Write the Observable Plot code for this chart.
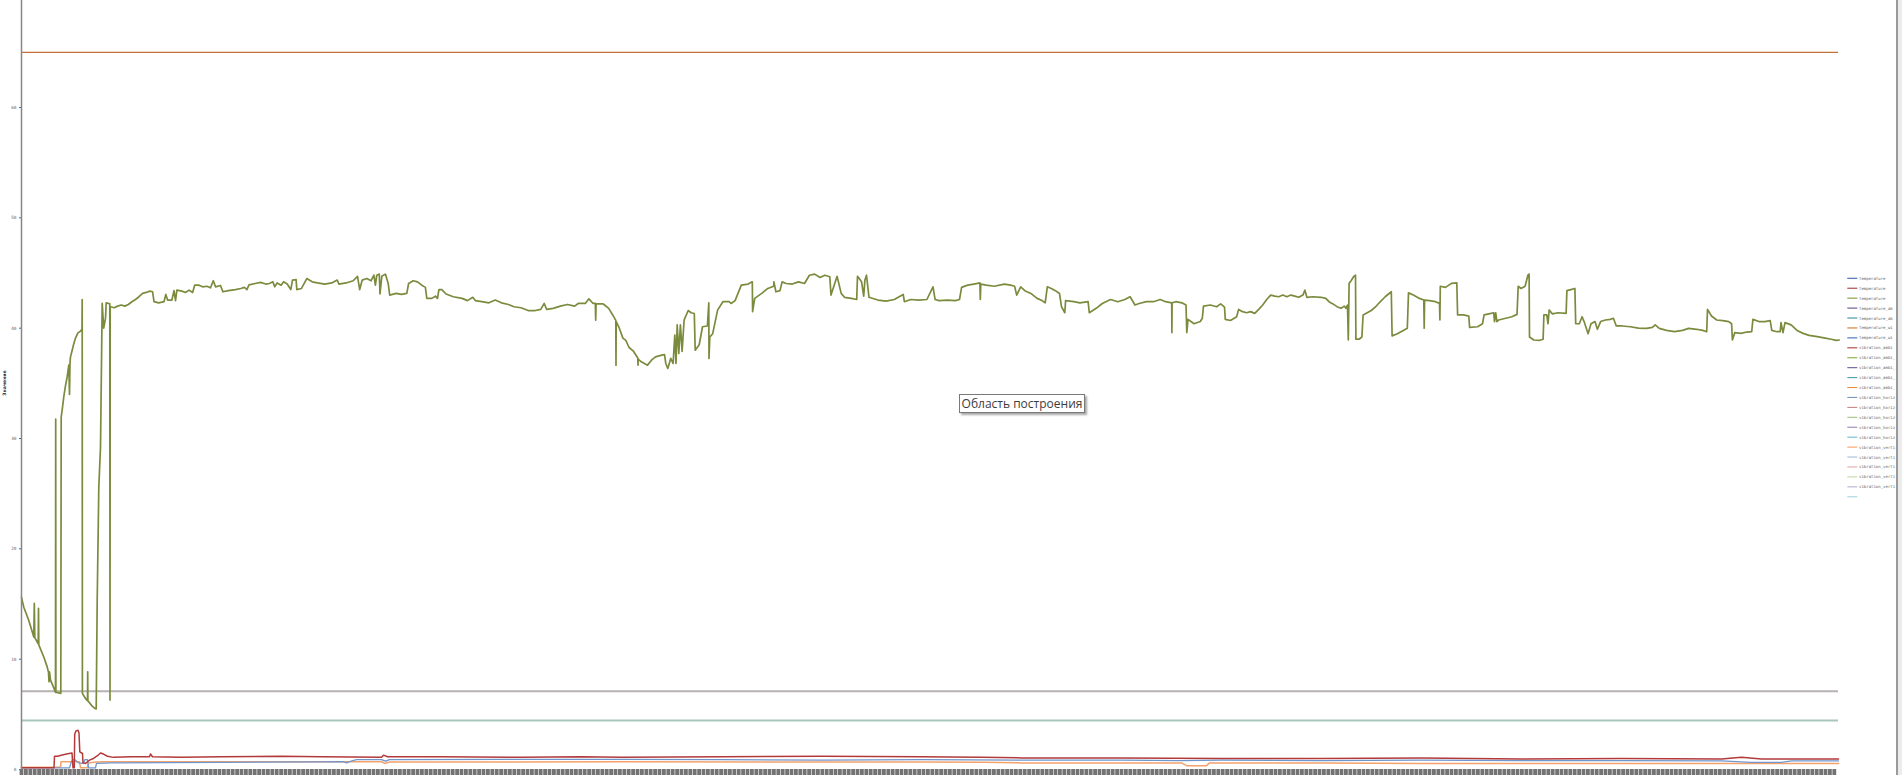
<!DOCTYPE html>
<html><head><meta charset="utf-8">
<script src="https://cdn.jsdelivr.net/npm/d3@7"></script>
<script src="https://cdn.jsdelivr.net/npm/@observablehq/plot@0.6"></script>
<style>
html,body{margin:0;padding:0;background:#fff;}
#wrap{position:relative;width:1902px;height:775px;overflow:hidden;background:#fff;}
#wrap svg{position:absolute;left:0;top:0;}
#tip{position:absolute;left:959px;top:394px;width:124px;height:17px;border:1px solid #7a7a7a;background:#fff;box-shadow:2px 2px 2px rgba(0,0,0,0.35);font:12px "Open Sans",sans-serif;color:#3c3c3c;line-height:17px;text-align:center;white-space:nowrap;}
#edge{position:absolute;left:1896px;top:0;width:6px;height:775px;background:#ececec;border-left:2px solid #9a9a9a;box-sizing:border-box;}
</style></head><body><div id="wrap"></div>
<script>
// ---- data (sample index, value) ----
const yTicks = [0, 10, 20, 30, 40, 50, 60];
const yTickLabels = ["0", "10", "20", "30", "40", "50", "60"];
const yTitle = "Значение";
const tipText = "Область построения";

const levelOrange = 65.0;   // temperature_w... (constant)
const levelGrey = 7.1;
const levelTeal = 4.45;

const tempSeries = [
[0,15.6],[2.3,14.7],[7.3,13.5],[12.3,12.0],[12.8,15.05],[13.3,11.95],[16.7,11.4],[17,14.6],[17.3,11.3],[22.3,10.2],[25.7,9.3],[27,8.8],[27.5,7.95],[28,8.85],[29,8.1],[32.3,7.4],[34,7.0],[34.2,31.75],[34.4,7.0],[39.3,6.9],[39.7,31.97],[40.7,32.6],[42.3,33.8],[44,34.8],[45.7,35.6],[47.3,36.65],[48,34.0],[48.5,36.9],[49,37.4],[50.7,38.0],[52.3,38.6],[54,39.1],[56.3,39.55],[59,39.74],[60.5,39.9],[60.7,42.6],[60.9,6.9],[64,6.43],[66,6.25],[66.2,8.85],[66.4,6.2],[67.3,6.13],[70.7,5.74],[73.3,5.53],[74.7,5.5],[75.7,15.3],[77.3,25.6],[79,29.2],[80.7,42.25],[82.2,40.0],[84,40.9],[84.7,42.3],[88.3,42.2],[88.5,6.3],[88.7,41.9],
[89,41.94],[92.6,41.85],[96.1,42.0],[99.7,42.1],[103.3,42.0],[106.8,42.15],[110.4,42.4],[114,42.6],[117.5,42.85],[121.1,43.15],[124.7,43.24],[128.3,43.36],[131.1,43.3],[132.5,42.4],[137.2,42.3],[142.5,42.4],[144.3,43.06],[146.1,42.55],[150.4,42.55],[152.5,43.4],[154,42.5],[155.4,43.45],[160.4,43.36],[164,43.24],[167.5,43.45],[171.1,43.24],[173.2,43.9],[177.5,43.9],[181.1,43.75],[185.4,43.8],[189,43.66],[191.8,44.3],[194,43.75],[199,43.87],[201.4,43.3],[206.8,43.4],[214,43.5],[219.3,43.6],[222.9,43.7],[225.4,43.5],[227.5,43.93],[233.6,44.05],[239,44.15],[244.3,44.0],[247.8,44.05],[251.4,44.2],[253.2,43.75],[255.7,44.1],[259.6,43.9],[262.1,44.2],[265.7,44.0],[269.3,43.5],[271,44.36],[274.6,44.4],[275.3,43.5],[280,43.6],[285.3,44.5],[290.7,44.2],[296,44.1],[303.2,44.0],[310.3,44.1],[315.7,44.36],[317.5,44.0],[324.6,44.1],[331.7,44.3],[336,44.7],[338.2,43.5],[340.7,44.36],[345.3,44.5],[349.6,44.3],[352.4,44.8],[353.9,43.9],[355.3,44.8],[357.8,44.9],[358.5,43.1],[360.3,44.7],[363.9,44.9],[366.7,44.05],[368.2,43.0],[374.6,43.15],[380,43.06],[385.3,43.15],[387.1,44.05],[391.7,44.3],[396,44.2],[400.3,43.9],[403.9,43.7],[405.3,42.7],[410.3,42.7],[413.9,42.9],[416,42.7],[417.4,43.5],[420.3,43.5],[424.6,43.1],[431.7,42.85],[440.6,42.7],[446,42.5],[451.3,42.8],[453.8,42.5],[460.3,42.4],[467.4,42.3],[473.8,42.55],[479.9,42.3],[487,42.15],[492.4,41.94],[499.5,41.85],[506.7,41.6],[513.8,41.6],[519.2,41.7],[522.7,42.24],[525.2,41.7],[531.7,41.8],[538.8,42.0],[546,42.15],[553.1,42.0],[556.7,42.24],[563.8,42.24],[567.4,42.66],[571.6,42.24],[573.8,42.24],[574.2,40.73],[574.6,42.2],[581.6,42.2],
[583,42.1],[587.2,41.8],[591.2,41.2],[594.3,40.7],[594.5,36.65],[594.7,40.6],[597.4,40.1],[601.4,39.1],[604.3,38.9],[607.6,38.25],[611.6,37.95],[616.3,37.3],[616.5,36.65],[616.7,37.2],[619.8,36.95],[626,36.65],[630,37.1],[634,37.4],[640.2,37.56],[643,37.6],[644.3,36.8],[646.3,36.35],[649.2,37.26],[651.6,36.8],[653.3,39.37],[654.5,36.8],[655.7,40.3],[657.3,37.7],[658.9,40.3],[660.6,37.9],[662.6,40.73],[666.7,41.6],[669.6,41.4],[672.8,41.33],[673.7,38.0],[677.7,38.5],[681,40.13],[685.9,40.2],[687.3,42.3],[687.5,37.26],[688.3,39.2],[691.2,39.5],[696.1,41.64],[701.4,42.4],[707.5,42.4],[709.6,42.24],[713.6,42.5],[719.8,43.9],[726.7,44.0],[730.8,44.2],[731.1,41.5],[733.2,42.7],[740.2,43.15],[746.3,43.6],[752.2,43.8],[752.4,44.2],[754.4,43.3],[758.5,43.4],[760.6,44.2],[764.6,44.05],[770.8,44.0],[776.9,44.2],[783,44.05],[787.9,44.8],[793.2,44.9],[798.5,44.6],[803.4,44.8],[808.3,44.66],[809.5,43.0],[815.6,44.7],[819.7,43.15],[823,42.8],[829.9,42.7],[835.2,42.6],[836,44.7],[840.1,44.2],[842.2,42.9],[843.4,44.36],[845,44.8],[847.5,42.8],[856.4,42.55],[864.6,42.45],[872.8,42.6],[881.7,43.06],[882.9,42.4],[889.1,42.6],[897.2,42.55],[905.4,42.6],[911.5,43.75],[913.6,42.6],[917.6,42.5],[925.8,42.55],[934,42.5],[938,42.6],[940.1,43.7],[946.2,43.9],[952.3,44.0],[958.4,44.1],[958.8,42.6],[959.3,44.0],[964.6,43.9],[972.7,43.8],[982.9,44.0],[989,43.9],[993.1,43.8],[995.2,43.0],[999.2,43.75],[1003.3,43.4],[1009.4,43.15],[1015.6,42.7],[1020.5,42.5],[1023.7,42.3],[1025.8,43.75],[1029.8,43.6],[1033.9,43.4],[1038,43.15],[1040,41.94],[1043.3,41.4],[1044.1,42.5],[1052.3,42.4],[1058.4,42.3],[1066.6,42.4],[1067.8,41.4],[1074.7,41.8],[1080.8,42.24],[1089,42.6],[1096.3,42.4],[1103.3,42.6],[1108.6,42.85],[1113.5,42.1],[1117.6,42.24],[1124.9,42.4],[1131.8,42.4],[1138.8,42.6],[1144.1,42.4],[1150.2,42.3],[1150.4,39.6],[1150.6,42.3],[1154.3,42.4],[1160.4,42.3],[1164.5,42.1],[1165.3,39.6],[1166.5,40.8],[1172.6,40.4],[1178.8,40.6],[1180.8,40.9],[1182,42.0],[1188.9,42.1],[1195.1,41.94],[1199.2,42.2],
[1203,41.9],[1203.8,40.8],[1209,40.7],[1215.1,41.04],[1217.1,41.7],[1221.1,41.5],[1225.1,41.4],[1229.1,41.5],[1233.2,41.34],[1237.2,41.7],[1241.2,42.1],[1245.2,42.6],[1249.2,43.0],[1253.2,42.9],[1257.3,42.85],[1261.3,43.0],[1265.3,42.85],[1269.3,43.0],[1273.3,42.9],[1277.3,42.8],[1281.4,43.0],[1283.4,43.45],[1285.4,42.8],[1291.4,42.85],[1299.5,42.8],[1304.3,42.7],[1307.5,42.4],[1311.5,42.2],[1315.5,41.95],[1319.5,41.8],[1322.8,42.0],[1324.4,41.8],[1326,42.1],[1326.8,38.93],[1327.6,44.06],[1329.6,44.3],[1332.4,44.7],[1334,44.8],[1334.4,39.0],[1337.6,39.0],[1340.4,39.2],[1341.6,41.2],[1345.7,41.4],[1349.7,41.6],[1353.7,41.9],[1357.7,42.3],[1363.7,42.85],[1369.8,43.3],[1370.6,39.3],[1375.8,39.5],[1381.8,39.8],[1385.8,40.0],[1387,43.2],[1391.9,43.0],[1397.9,42.7],[1402.3,42.55],[1402.7,40.0],[1403.1,42.55],[1408,42.5],[1414,42.4],[1418,42.25],[1418.4,40.74],[1418.8,43.8],[1424,43.7],[1430,44.06],[1435.3,44.1],[1436.1,41.2],[1442.1,41.2],[1447.3,41.1],[1448.1,40.07],[1456.2,40.13],[1461,40.4],[1462.6,41.2],[1467.4,41.3],[1472.2,41.4],[1473,40.6],[1474.2,41.4],[1475.4,40.6],[1477,40.74],[1484.3,40.9],[1490.3,41.04],[1495.5,41.25],[1496.7,43.8],[1499.5,43.6],[1503.6,43.8],[1506.4,44.8],[1507.6,44.9],[1508,39.2],[1512.4,38.93],[1518.4,38.9],[1521.6,39.0],[1522.4,41.2],[1525.3,41.2],[1526.5,40.4],[1527.7,41.65],[1530.9,41.3],[1536.5,41.4],[1544.6,41.34],[1545.4,43.4],[1549.4,43.5],[1553.4,43.6],[1554.2,40.4],[1557.8,40.4],[1560.6,41.04],[1563,40.5],[1566.6,39.5],[1569.5,40.4],[1573.5,40.6],[1575.9,39.9],[1579.1,40.6],[1583.9,40.74],[1588.7,40.8],[1591.9,40.9],[1594.8,40.2],[1600.8,40.2],[1608.8,40.13],[1616.9,40.0],[1624.9,39.98],[1630.9,40.07],[1633.7,40.3],[1637.8,39.98],[1645,39.8],[1653,39.68],[1661.1,39.8],[1667.1,39.98],[1675.1,39.9],[1681.2,39.8],[1685.2,39.68],[1686,41.7],[1690,41.1],[1695.2,40.74],[1701.3,40.68],[1707.3,40.6],[1710.1,40.4],[1710.9,38.93],[1713.3,39.6],[1719.3,39.53],[1725.4,39.65],[1730.2,39.68],[1731.4,40.8],[1737.4,40.6],[1743.4,40.6],[1748.7,40.68],[1750.3,39.8],[1755.5,39.68],[1758.7,39.68],[1759.5,40.5],[1761.5,39.6],[1763.5,40.5],[1769.6,40.3],[1775.6,39.8],[1781.6,39.53],[1787.6,39.35],[1795.7,39.23],[1803.7,39.1],[1809.7,39.0],[1814.6,38.9],[1817.8,38.93]
];

const vibRedSeries = [
[0,0.15],[32.5,0.15],[33,1.2],[36,1.2],[39.7,1.3],[45,1.4],[50.5,1.5],[51.5,0.15],[52.8,0.15],[53.2,3.2],[54.5,3.5],[56.5,3.55],[57.5,3.3],[58.3,1.6],[61,1.45],[61.5,0.6],[64,0.55],[66,0.7],[68,0.85],[72,1.0],[76,1.25],[79,1.5],[82,1.4],[86,1.2],[92,1.1],[110,1.15],[128,1.15],[129,1.4],[131,1.15],[160,1.1],[200,1.15],[260,1.2],[300,1.15],[360,1.1],[362,1.3],[366,1.15],[420,1.15],[500,1.1],[560,1.15],[600,1.1],[700,1.15],[800,1.2],[900,1.15],[960,1.1],[1000,1.05],[1100,1.05],[1200,1.0],[1300,1.0],[1400,1.05],[1500,0.95],[1600,1.0],[1700,0.95],[1720,1.1],[1740,0.95],[1817,0.95]
];
const vibBlueSeries = [
[0,0.15],[48,0.15],[49.5,0.6],[51,0.9],[54,0.85],[57,0.6],[62,0.55],[63.5,0.9],[66,0.9],[67,0.15],[74,0.15],[75,0.55],[90,0.6],[200,0.65],[300,0.7],[322,0.72],[325,0.6],[328,0.72],[335,0.9],[360,0.9],[364,0.75],[368,0.9],[600,0.92],[700,0.9],[800,0.85],[900,0.9],[1000,0.85],[1100,0.85],[1160,0.8],[1200,0.85],[1300,0.8],[1400,0.85],[1500,0.8],[1600,0.8],[1700,0.78],[1730,0.65],[1760,0.65],[1770,0.78],[1817,0.78]
];
const vibOrangeSeries = [
[0,0.2],[39,0.2],[39.5,0.7],[58,0.7],[59,0.15],[66,0.15],[67,0.6],[72,0.65],[80,0.7],[300,0.7],[360,0.7],[363,0.55],[368,0.68],[600,0.7],[900,0.68],[960,0.65],[1000,0.6],[1100,0.6],[1160,0.6],[1165,0.35],[1185,0.35],[1188,0.6],[1300,0.6],[1400,0.55],[1500,0.55],[1600,0.55],[1700,0.55],[1817,0.55]
];

const legendNames = ["temperature","temperature","temperature","temperature_ab","temperature_ab","temperature_wi","temperature_wi","vibration_ambi","vibration_ambi_","vibration_ambi_","vibration_ambi_","vibration_ambi_","vibration_horiz","vibration_horiz","vibration_horiz","vibration_horiz","vibration_horiz","vibration_verti","vibration_verti","vibration_verti","vibration_verti","vibration_verti",""];
const legendColors = ["#3a67a6","#a83a3a","#7e9a3a","#65508a","#3a8fa8","#d2772a","#3d6fb5","#b03c3c","#8aaa4a","#6d5a95","#45a0b8","#ee8a3c","#7b95c2","#c98585","#a8c080","#9a88b5","#6ebbd0","#f7a064","#a8bcda","#e0a8a8","#c5d8a8","#b8b0d0","#a8d4e0"];

const xTickStep = 4.4;
const xTicks = d3.range(0, 1817, xTickStep);

const chart = Plot.plot({
  width: 1902, height: 775,
  marginLeft: 21, marginRight: 64, marginTop: 0, marginBottom: 6,
  x: {domain: [0, 1817], axis: null},
  y: {domain: [0, 69.7], axis: null},
  style: {background: "transparent", fontFamily: "DejaVu Sans Mono"},
  marks: [
    Plot.ruleY([levelOrange], {stroke: "#c4703a", strokeWidth: 1.2}),
    Plot.ruleY([levelGrey], {stroke: "#b9b2b2", strokeWidth: 2}),
    Plot.ruleY([levelTeal], {stroke: "#a9c6bd", strokeWidth: 2}),
    Plot.line(vibOrangeSeries, {x: d => d[0], y: d => d[1], stroke: "#f4a26b", strokeWidth: 1.5}),
    Plot.line(vibBlueSeries, {x: d => d[0], y: d => d[1], stroke: "#7096ce", strokeWidth: 1.3}),
    Plot.line(vibRedSeries, {x: d => d[0], y: d => d[1], stroke: "#b23a3a", strokeWidth: 1.5}),
    Plot.line(tempSeries, {x: d => d[0], y: d => d[1], stroke: "#7b8b3e", strokeWidth: 1.7}),
    Plot.ruleX([0], {stroke: "#868686", strokeWidth: 1.5}),
    Plot.axisY(yTicks, {tickSize: 2, tickPadding: 3, fontSize: 4.4, color: "#666", tickFormat: d => yTickLabels[yTicks.indexOf(d)], label: null}),
    Plot.axisX(xTicks, {tickSize: 6, tickFormat: () => "", stroke: "#737373", strokeWidth: 3.8, label: null})
  ]
});

const wrap = document.getElementById("wrap");
wrap.appendChild(chart);

// y title
d3.select(chart).append("text")
  .attr("transform", "translate(6,383) rotate(-90)")
  .attr("text-anchor", "middle")
  .attr("font-size", 4.6).attr("font-weight", "bold")
  .attr("font-family", "DejaVu Sans").attr("fill", "#333")
  .text(yTitle);

// legend
const leg = d3.select(wrap).append("svg")
  .attr("width", 56).attr("height", 240)
  .style("left", "1840px").style("top", "270px");
const rows = leg.selectAll("g").data(legendNames).join("g")
  .attr("transform", (d, i) => `translate(0,${8.3 + i * 9.93})`);
rows.append("line").attr("x1", 7.3).attr("x2", 17.3)
  .attr("stroke", (d, i) => legendColors[i]).attr("stroke-width", 1.1);
rows.append("text").attr("x", 19).attr("y", 1.5)
  .attr("font-size", 4.0).attr("font-family", "DejaVu Sans Mono").attr("fill", "#666")
  .text(d => d);

const edge = document.createElement("div"); edge.id = "edge"; wrap.appendChild(edge);
const tip = document.createElement("div"); tip.id = "tip"; tip.textContent = tipText; wrap.appendChild(tip);
</script></body></html>
